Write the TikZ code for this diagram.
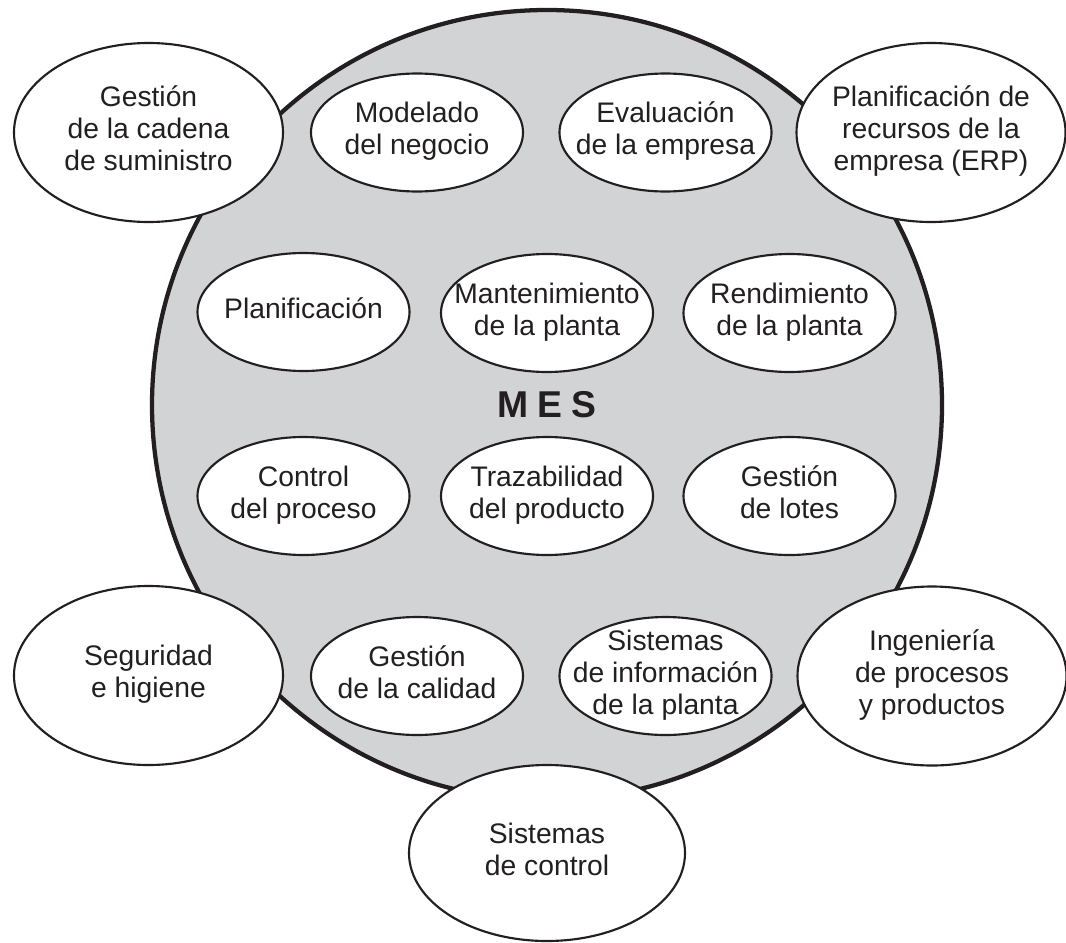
\documentclass[tikz,border=0pt]{standalone}
\usepackage{fontspec}
\setmainfont{Liberation Sans}
\usetikzlibrary{shapes.geometric}
\definecolor{mesgray}{RGB}{209,211,212}
\definecolor{ink}{RGB}{35,31,32}
\newcommand{\ctxt}[1]{\makebox[0pt][c]{\vbox to 0pt{\vss\hbox{\begin{tabular}{@{}c@{}}#1\end{tabular}}\vss}}}
\begin{document}
\begin{tikzpicture}[x=0.75pt,y=-0.75pt,
  inner/.style={ellipse, draw=ink, fill=white, line width=1.6pt, inner sep=0pt, outer sep=0pt,
    minimum width=159pt, minimum height=88.5pt, font=\fontsize{21.2}{24}\selectfont, text=ink},
  outer/.style={inner, minimum width=201.75pt, minimum height=134.25pt},
  bigc/.style={circle, draw=ink, fill=mesgray, line width=3.2pt, minimum size=592.5pt, inner sep=0pt,
    font=\fontsize{28}{32}\selectfont\bfseries, text=ink}]
\useasboundingbox (0,0) rectangle (1066,942);
\node[bigc] (mes) at (547,405) {M\hspace{7pt}E\hspace{7pt}S};
% outer
\node[outer] (scm) at (148.5,132.5) {\ctxt{Gestión\\de la cadena\\de suministro}};
\node[outer] (erp) at (931,132.5) {\ctxt{Planificación de\\recursos de la\\empresa (ERP)}};
\node[outer] (seg) at (148.5,675.5) {\ctxt{Seguridad\\e higiene}};
\node[outer] (ing) at (932,676) {\ctxt{Ingeniería\\de procesos\\y productos}};
\node[outer, minimum width=207pt, minimum height=132pt] (sc) at (547,853) {\ctxt{Sistemas\\de control}};
% inner
\node[inner] (mod) at (417,132.5) {\ctxt{Modelado\\del negocio}};
\node[inner] (eva) at (665.5,132.5) {\ctxt{Evaluación\\de la empresa}};
\node[inner] (pla) at (303.5,312) {\ctxt{Planificación}};
\node[inner] (man) at (547,313) {\ctxt{Mantenimiento\\de la planta}};
\node[inner] (ren) at (789.5,313) {\ctxt{Rendimiento\\de la planta}};
\node[inner] (con) at (303.5,496) {\ctxt{Control\\del proceso}};
\node[inner] (tra) at (547,496) {\ctxt{Trazabilidad\\del producto}};
\node[inner] (lot) at (789.5,496) {\ctxt{Gestión\\de lotes}};
\node[inner] (cal) at (417,676) {\ctxt{Gestión\\de la calidad}};
\node[inner] (sip) at (665.5,676) {\ctxt{Sistemas\\de información\\de la planta}};
\end{tikzpicture}
\end{document}
